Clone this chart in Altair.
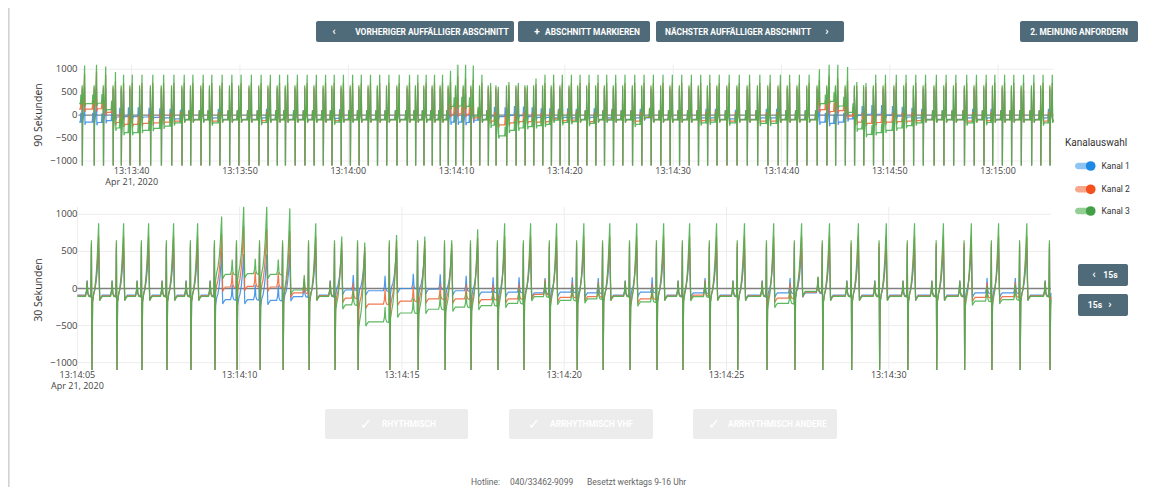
import altair as alt
import pandas as pd

# ---------------- data ----------------
channels = ["Kanal 1", "Kanal 2", "Kanal 3"]
line_colors = ["#3a8ee6", "#f0693c", "#4caf50"]
knob_colors = ["#1e88e5", "#f4511e", "#43a047"]
track_colors = ["#8ec3f2", "#f7a88c", "#93cf95"]

# time of each down-spike (seconds after 13:14:00)
beat_t = [-24.55, -23.45, -22.6, -21.7, -20.95, -20.15, -19.25, -18.25, -17.25, -16.3,
          -15.35, -14.55, -13.6, -12.8, -11.85, -10.95, -10.1, -9.15, -8.25, -7.4,
          -6.55, -5.8, -4.9, -4.0, -3.15, -2.3, -1.5, -0.65, 0.2, 1.0, 1.85, 2.7, 3.55, 4.5,
          5.45, 6.22, 6.99, 7.76, 8.50, 9.24, 9.92, 10.63, 11.34, 12.14, 12.94, 13.65, 14.63,
          15.50, 16.33, 17.13, 17.96, 18.76, 19.56, 20.40, 21.20, 22.03, 22.86, 23.66, 24.49,
          25.35, 26.25, 27.11, 27.97, 28.86, 29.72, 30.59, 31.48, 32.34, 33.18, 34.05, 34.97,
          35.9, 36.85, 37.8, 38.75, 39.7, 40.55, 41.45, 42.35, 43.3, 44.2, 45.0, 45.9, 46.75,
          47.6, 48.5, 49.4, 50.4, 51.3, 52.2, 53.1, 54.1, 55.0, 55.9, 56.9, 57.8, 58.7, 59.5,
          60.4, 61.25, 62.15, 63.1, 63.95, 64.8]

normal_base = [-90, -100, -105]
normal_peak = [540, 700, 880]
spike_up = [560, 610, 650]
spike_down = -1100

# baseline level after the listed beats (where channels separate)
base_t = [-24.55, -23.45, -22.6, -21.7, -20.95, -20.15, -19.25, -18.25, -17.25, -16.3, -12.8, -8.25, -1.5,
          9.24, 9.92, 10.63, 11.34, 12.94, 13.65, 14.63, 15.50, 16.33, 17.13, 17.96, 18.76, 19.56, 20.40,
          22.03, 23.66, 26.25, 27.11, 32.34, 33.18, 34.97,
          37.8, 38.75, 43.3, 44.2, 45.0, 45.9, 46.75, 47.6, 48.5, 49.4, 50.4, 51.3, 52.2, 56.9, 58.7, 63.95]
base_k1 = [-150, -160, -120, -40, -30, -30, -40, -50, -60, -80, -60, -60, -70,
           -150, -150, -160, -110, -20, -30, 0, -10, -30, -50, -50, -60, -50, -60, -50, -60, -60, -60, -60, -60, -80,
           -60, -60, -150, -180, -150, -80, 0, 20, 20, 0, -20, -40, -60, -60, -60, -60]
base_k2 = [130, 140, 60, -160, -200, -200, -180, -170, -150, -130, -130, -120, -120,
           20, 30, 20, -60, -130, -210, -170, -140, -140, -150, -140, -80, -120, -110, -140, -90, -130, -50, -120, -110, -130,
           -130, -130, 120, 80, 100, -20, -150, -180, -160, -150, -140, -130, -120, -130, -120, -130]
base_k3 = [250, 260, 120, -280, -380, -380, -330, -290, -240, -170, -170, -160, -150,
           190, 200, 190, -20, -220, -450, -330, -280, -250, -230, -200, -110, -160, -140, -180, -110, -200, -40, -170, -150, -170,
           -180, -180, 250, 300, 200, 60, -300, -420, -380, -330, -280, -230, -170, -170, -160, -170]

# broad wave peak of the listed beats
peak_t = [-24.55, -23.45, -22.6, -21.7, 9.24, 9.92, 10.63, 11.34, 12.94, 13.65, 14.63, 15.50, 16.33, 17.13,
          43.3, 44.2, 45.0, 45.9, 46.75, 47.6]
peak_k1 = [620, 600, 580, 560, 490, 460, 460, 460, 520, 500, 540, 540, 520, 560, 520, 600, 550, 500, 520, 520]
peak_k2 = [900, 950, 880, 740, 730, 840, 800, 770, 620, 560, 650, 640, 600, 680, 760, 850, 800, 750, 640, 620]
peak_k3 = [1080, 1100, 1060, 940, 970, 1100, 1100, 1080, 700, 620, 720, 700, 650, 800, 1000, 1100, 1100, 1050, 720, 700]

# shape of one beat (seconds relative to the down-spike)
pre_dt = [-0.30, -0.20, -0.17, -0.15, -0.13, -0.10, -0.035]
pre_off = [0, 0, 60, 200, 40, 0, -10]
post_dt = [0.018, 0.05]
post_off = [-80, 20]
wave_dt = [0.09, 0.13, 0.16, 0.185, 0.205, 0.222]
wave_frac = [0.12, 0.30, 0.52, 0.78, 1.0, 0.35]
tail_dt = [0.238, 0.27, 0.32]
tail_off = [-60, -30, 0]

top_tick_t = [-20, -10, 0, 10, 20, 30, 40, 50, 60]
top_tick_lab = ["13:13:40", "13:13:50", "13:14:00", "13:14:10", "13:14:20",
                "13:14:30", "13:14:40", "13:14:50", "13:15:00"]
bot_tick_t = [5, 10, 15, 20, 25, 30]
bot_tick_lab = ["13:14:05", "13:14:10", "13:14:15", "13:14:20", "13:14:25", "13:14:30"]
y_tick_v = [-1000, -500, 0, 500, 1000]
y_tick_lab = ["\u22121000", "\u2212500", "0", "500", "1000"]
y_grid_v = [-1000, -500, 500, 1000]
date_lab = "Apr 21, 2020"

# ---------------- build series ----------------
def lookup(t, keys, arrays, default):
    if t in keys:
        i = keys.index(t)
        return [a[i] for a in arrays]
    return list(default)

rows = []
for k, t in enumerate(beat_t):
    prev_t = beat_t[k - 1] if k > 0 else t
    bp = lookup(prev_t, base_t, [base_k1, base_k2, base_k3], normal_base)
    bq = lookup(t, base_t, [base_k1, base_k2, base_k3], normal_base)
    pk = lookup(t, peak_t, [peak_k1, peak_k2, peak_k3], normal_peak)
    for c, ch in enumerate(channels):
        for dt, off in zip(pre_dt, pre_off):
            rows.append((round(t + dt, 3), bp[c] + off, ch))
        rows.append((round(t - 0.018, 3), spike_up[c], ch))
        rows.append((round(t, 3), spike_down, ch))
        for dt, off in zip(post_dt, post_off):
            rows.append((round(t + dt, 3), bq[c] + off, ch))
        for dt, fr in zip(wave_dt, wave_frac):
            rows.append((round(t + dt, 3), bq[c] + fr * (pk[c] - bq[c]), ch))
        for dt, off in zip(tail_dt, tail_off):
            rows.append((round(t + dt, 3), bq[c] + off, ch))
ecg = pd.DataFrame(rows, columns=["t", "v", "ch"])

one = pd.DataFrame({"k": [0]})


def panel(xdom, xrng, ydom, yrng, tick_t, tick_lab, lab_y, title, title_y, keep):
    xs = alt.Scale(domain=xdom, range=xrng, nice=False, zero=False, clamp=True)
    ys = alt.Scale(domain=ydom, range=yrng, nice=False, zero=False, clamp=True)
    vgrid = alt.Chart(pd.DataFrame({"t": tick_t})).mark_rule(color="#ededed", strokeWidth=1).encode(
        x=alt.X("t:Q", scale=xs, axis=None),
        y=alt.YDatum(ydom[1], type="quantitative", scale=ys, axis=None),
        y2=alt.Y2Datum(ydom[0]))
    hgrid = alt.Chart(pd.DataFrame({"v": y_grid_v})).mark_rule(color="#ededed", strokeWidth=1).encode(
        y=alt.Y("v:Q", scale=ys, axis=None),
        x=alt.XDatum(xdom[0], type="quantitative", scale=xs, axis=None),
        x2=alt.X2Datum(xdom[1]))
    zero = alt.Chart(one).mark_rule(color="#808080", strokeWidth=1.3).encode(
        y=alt.YDatum(0, type="quantitative", scale=ys, axis=None),
        x=alt.XDatum(xdom[0], type="quantitative", scale=xs, axis=None),
        x2=alt.X2Datum(xdom[1]))
    lines = []
    for ch, col in zip(channels, line_colors):
        lines.append(alt.Chart(ecg).transform_filter(
            (alt.datum.ch == ch) & (alt.datum.t >= keep[0]) & (alt.datum.t <= keep[1])
        ).mark_line(color=col, strokeWidth=1.2, opacity=0.9).encode(
            x=alt.X("t:Q", scale=xs, axis=None),
            y=alt.Y("v:Q", scale=ys, axis=None)))
    xl = alt.Chart(pd.DataFrame({"t": tick_t, "lab": tick_lab})).mark_text(
        fontSize=9, color="#444", font="Open Sans", baseline="middle").encode(
        x=alt.X("t:Q", scale=xs, axis=None), y=alt.value(lab_y), text="lab:N")
    dl = alt.Chart(pd.DataFrame({"t": [tick_t[0]], "lab": [date_lab]})).mark_text(
        fontSize=9, color="#444", font="Open Sans", baseline="middle").encode(
        x=alt.X("t:Q", scale=xs, axis=None), y=alt.value(lab_y + 11.2), text="lab:N")
    yl = alt.Chart(pd.DataFrame({"v": y_tick_v, "lab": y_tick_lab})).mark_text(
        fontSize=9.5, color="#444", font="Open Sans", baseline="middle", align="right").encode(
        y=alt.Y("v:Q", scale=ys, axis=None), x=alt.value(69.5), text="lab:N")
    tt = alt.Chart(one).mark_text(text=title, angle=270, fontSize=10.5, color="#333",
                                  font="Open Sans", baseline="middle").encode(
        x=alt.value(31), y=alt.value(title_y))
    return alt.layer(hgrid, vgrid, zero, *lines, xl, dl, yl, tt)


top = panel([-24.9, 65.1], [70.6, 1045.3], [-1100, 1100], [157.6, 56.7],
            top_tick_t, top_tick_lab, 163.2, "90 Sekunden", 107, [-25.2, 65.3])
bottom = panel([5, 35], [69.4, 1043.0], [-1100, 1100], [362.1, 198.9],
               bot_tick_t, bot_tick_lab, 366.5, "30 Sekunden", 282, [4.8, 35.05])


# ---------------- interface elements ----------------
def box(x0, x1, y0, y1, fill, r=2):
    return alt.Chart(one).mark_rect(cornerRadius=r, color=fill).encode(
        x=alt.value(x0), x2=alt.value(x1), y=alt.value(y0), y2=alt.value(y1))


def label(x, y, s, size=8.4, color="white", weight="bold", align="center", font="Roboto"):
    return alt.Chart(one).mark_text(text=s, fontSize=size, color=color, fontWeight=weight,
                                    align=align, baseline="middle", font=font).encode(
        x=alt.value(x), y=alt.value(y))


btn = "#4f6b79"
ui = [
    box(0, 1.6, 0, 479, "#d2d2d2", r=0),
    box(308, 506, 13, 34, btn), label(326, 23.5, "\u2039", size=11), label(424, 24, "VORHERIGER AUFFÄLLIGER ABSCHNITT"),
    box(510, 642, 13, 34, btn), label(529, 23.5, "+", size=10), label(584.5, 24, "ABSCHNITT MARKIEREN"),
    box(648, 836, 13, 34, btn), label(730, 24, "NÄCHSTER AUFFÄLLIGER ABSCHNITT"), label(819, 23.5, "\u203a", size=11),
    box(1012, 1130, 13, 34, btn), label(1071, 24, "2. MEINUNG ANFORDERN"),
    box(1070, 1120, 256, 278, btn), label(1086, 266.5, "\u2039", size=11), label(1102.5, 267, "15s", size=8.6),
    box(1070, 1120, 286, 308, btn), label(1087, 297, "15s", size=8.6), label(1102, 296.5, "\u203a", size=11),
    label(1057, 135, "Kanalauswahl", size=10, color="#333", weight="normal", align="left"),
]
for i, (ch, kc, tc) in enumerate(zip(channels, knob_colors, track_colors)):
    yy = [158, 181.3, 203][i]
    ui.append(box(1067, 1086, yy - 3.3, yy + 3.3, tc, r=3.3))
    ui.append(alt.Chart(one).mark_circle(color=kc, opacity=1, size=95).encode(
        x=alt.value(1082.7), y=alt.value(yy)))
    ui.append(label(1093.5, yy, ch, size=8.5, color="#333", weight="normal", align="left"))

for (x0, x1, cx, tx, s) in [(317, 460, 358, 374, "RHYTHMISCH"),
                            (501, 645, 526, 542, "ARRHYTHMISCH VHF"),
                            (685, 829, 706, 720, "ARRHYTHMISCH ANDERE")]:
    ui.append(box(x0, x1, 401, 431, "#ececec"))
    ui.append(label(cx, 416, "\u2713", size=15, weight="normal", font="DejaVu Sans"))
    ui.append(label(tx, 416, s, align="left"))

ui.append(label(463, 474, "Hotline:", size=8.5, color="#666", weight="normal", align="left"))
ui.append(label(502, 474, "040/33462-9099", size=8.5, color="#666", weight="normal", align="left"))
ui.append(label(579, 474, "Besetzt werktags 9-16 Uhr", size=8.5, color="#666", weight="normal", align="left"))

chart = alt.layer(top, bottom, *ui).resolve_scale(
    x="independent", y="independent"
).properties(
    width=1134, height=479, autosize=alt.AutoSizeParams(type="none"), padding=0
).configure_view(strokeWidth=0)

chart.save("out.html", embed_options={"renderer": "svg", "actions": False})
